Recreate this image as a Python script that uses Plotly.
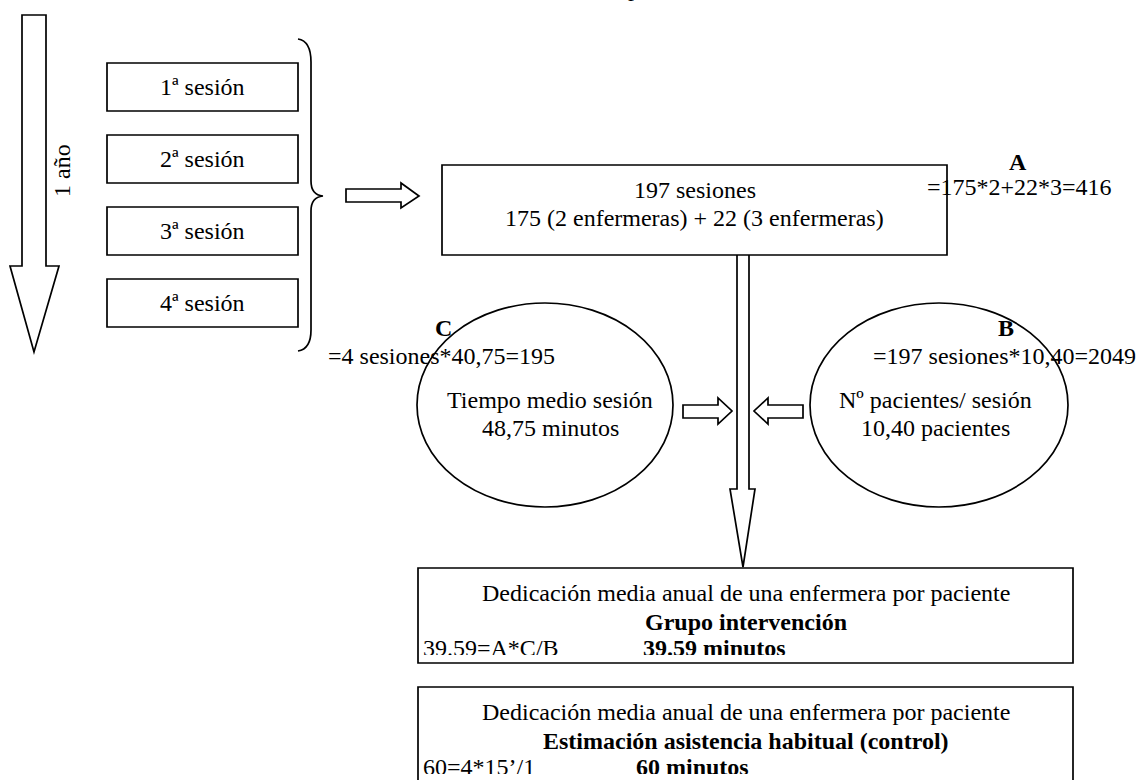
import plotly.graph_objects as go

# ---------------- data ----------------
session_labels = ["1ª sesión", "2ª sesión", "3ª sesión", "4ª sesión"]
year_label = "1 año"
total_sessions = 197
sessions_2_nurses = 175
sessions_3_nurses = 22
A_value = 416
C_sessions = 4
C_factor = "40,75"
C_value = 195
B_factor = "10,40"
B_value = 2049
mean_session_time = "48,75"
patients_per_session = "10,40"
intervention_minutes = "39.59"
control_minutes = 60
control_formula = "60=4*15’/1"
box_title = "Dedicación media anual de una enfermera por paciente"
group_labels = ["Grupo intervención", "Estimación asistencia habitual (control)"]
cut_title = "p"  # only the descender of the cut-off title line shows at the top

main_lines = [f"{total_sessions} sesiones",
              f"{sessions_2_nurses} (2 enfermeras) + {sessions_3_nurses} (3 enfermeras)"]
A_text = f"={sessions_2_nurses}*2+{sessions_3_nurses}*3={A_value}"
C_text = f"={C_sessions} sesiones*{C_factor}={C_value}"
B_text = f"={total_sessions} sesiones*{B_factor}={B_value}"
left_ellipse_lines = ["Tiempo medio sesión", f"{mean_session_time} minutos"]
right_ellipse_lines = ["Nº pacientes/ sesión", f"{patients_per_session} pacientes"]
result_formulas = [f"{intervention_minutes}=A*C/B", control_formula]
result_values = [f"{intervention_minutes} minutos", f"{control_minutes} minutos"]

# ---------------- layout geometry (pixels) ----------------
W, H = 1140, 780
FONT = "Liberation Serif, Times New Roman, serif"
FS = 24
LW = 1.7

fig = go.Figure()
shapes = []
annotations = []


def txt(x, y, s, bold=False, xanchor="center", angle=0):
    annotations.append(dict(
        x=x, y=y, xref="x", yref="y", text=f"<b>{s}</b>" if bold else s,
        showarrow=False, xanchor=xanchor, yanchor="middle", textangle=angle,
        font=dict(family=FONT, size=FS, color="black")))


def rect(x0, y0, x1, y1):
    shapes.append(dict(type="rect", xref="x", yref="y", x0=x0, y0=y0, x1=x1, y1=y1,
                       line=dict(color="black", width=LW), fillcolor="rgba(0,0,0,0)"))


def path(d, closed=True):
    shapes.append(dict(type="path", xref="x", yref="y", path=d,
                       line=dict(color="black", width=LW),
                       fillcolor="white" if closed else "rgba(0,0,0,0)"))


def ellipse(cx, cy, rx, ry):
    shapes.append(dict(type="circle", xref="x", yref="y", x0=cx - rx, x1=cx + rx,
                       y0=cy - ry, y1=cy + ry, line=dict(color="black", width=LW)))


# cut-off title line at the very top (clipped by the page)
fig.add_trace(go.Scatter(
    x=[634], y=[-10], text=[cut_title], mode="text", textposition="middle center",
    textfont=dict(family=FONT, size=FS, color="black"),
    hoverinfo="skip", showlegend=False, cliponaxis=True, xaxis="x", yaxis="y"))

# big down arrow (one year)
path("M22,15 L46,15 L46,266 L59,266 L34,352 L10,266 L22,266 Z")
txt(62, 171, year_label, angle=-90)

# session boxes
box_tops = [63, 135, 207, 279]
for lab, top in zip(session_labels, box_tops):
    rect(107, top, 298, top + 48)
    txt(202.5, top + 24, lab)

# brace
path("M298,39 Q311,41 311,62 L311,181 Q311,195 323,196 Q311,197 311,211 "
     "L311,330 Q311,349 298,351", closed=False)

# right block arrow
path("M346,189 L401,189 L401,183 L419,196 L401,208 L401,202 L346,202 Z")

# main box
rect(442, 165, 947, 255)
txt(694.5, 190, main_lines[0])
txt(694.5, 218, main_lines[1])
txt(1018, 162, "A", bold=True)
txt(925, 187, A_text, xanchor="left")

# vertical double arrow
path("M737,255 L737,489 L730,489 L743,567 L755,489 L749,489 L749,255", closed=False)

# ellipses
ellipse(545, 405, 128, 102)
ellipse(939, 405, 129, 102)
txt(443, 328, "C", bold=True)
txt(326, 356, C_text, xanchor="left")
txt(550, 400, left_ellipse_lines[0])
txt(550, 428, left_ellipse_lines[1])
txt(1006, 328, "B", bold=True)
txt(871, 356, B_text, xanchor="left")
txt(935, 400, right_ellipse_lines[0])
txt(935, 428, right_ellipse_lines[1])

# small arrows
path("M683,405 L718,405 L718,398 L732,411 L718,424 L718,418 L683,418 Z")
path("M803,405 L768,405 L768,398 L754,411 L768,424 L768,418 L803,418 Z")

# result boxes (last text line is clipped by the box, as in the reference)
res_tops = [568, 687]
clip_bottoms = [655, 774]
value_x = [643, 636]
ax_off = dict(visible=False, showgrid=False, zeroline=False, fixedrange=True)
layout_axes = dict(
    xaxis=dict(range=[0, W], domain=[0, 1], **ax_off),
    yaxis=dict(range=[H, 0], domain=[0, 1], **ax_off),
)
for i, top in enumerate(res_tops):
    rect(418, top, 1073, top + 95)
    txt(745.5, top + 25, box_title)
    txt(745.5, top + 54, group_labels[i], bold=True)
    k = i + 2
    cb = clip_bottoms[i]
    layout_axes[f"xaxis{k}"] = dict(range=[0, W], domain=[0, 1], anchor=f"y{k}", **ax_off)
    layout_axes[f"yaxis{k}"] = dict(range=[cb, 0], domain=[(H - cb) / H, 1],
                                    anchor=f"x{k}", **ax_off)
    fig.add_trace(go.Scatter(
        x=[423, value_x[i]], y=[top + 82, top + 82],
        text=[result_formulas[i], f"<b>{result_values[i]}</b>"],
        mode="text", textposition="middle right",
        textfont=dict(family=FONT, size=FS, color="black"),
        hoverinfo="skip", showlegend=False, cliponaxis=True,
        xaxis=f"x{k}", yaxis=f"y{k}"))

fig.update_layout(
    width=W, height=H, margin=dict(l=0, r=0, t=0, b=0),
    paper_bgcolor="white", plot_bgcolor="rgba(0,0,0,0)",
    shapes=shapes, annotations=annotations, showlegend=False,
    **layout_axes)

fig.write_html("out.html", config={"displayModeBar": False},
               post_script="document.body.style.margin='0';document.body.style.overflow='hidden';")
